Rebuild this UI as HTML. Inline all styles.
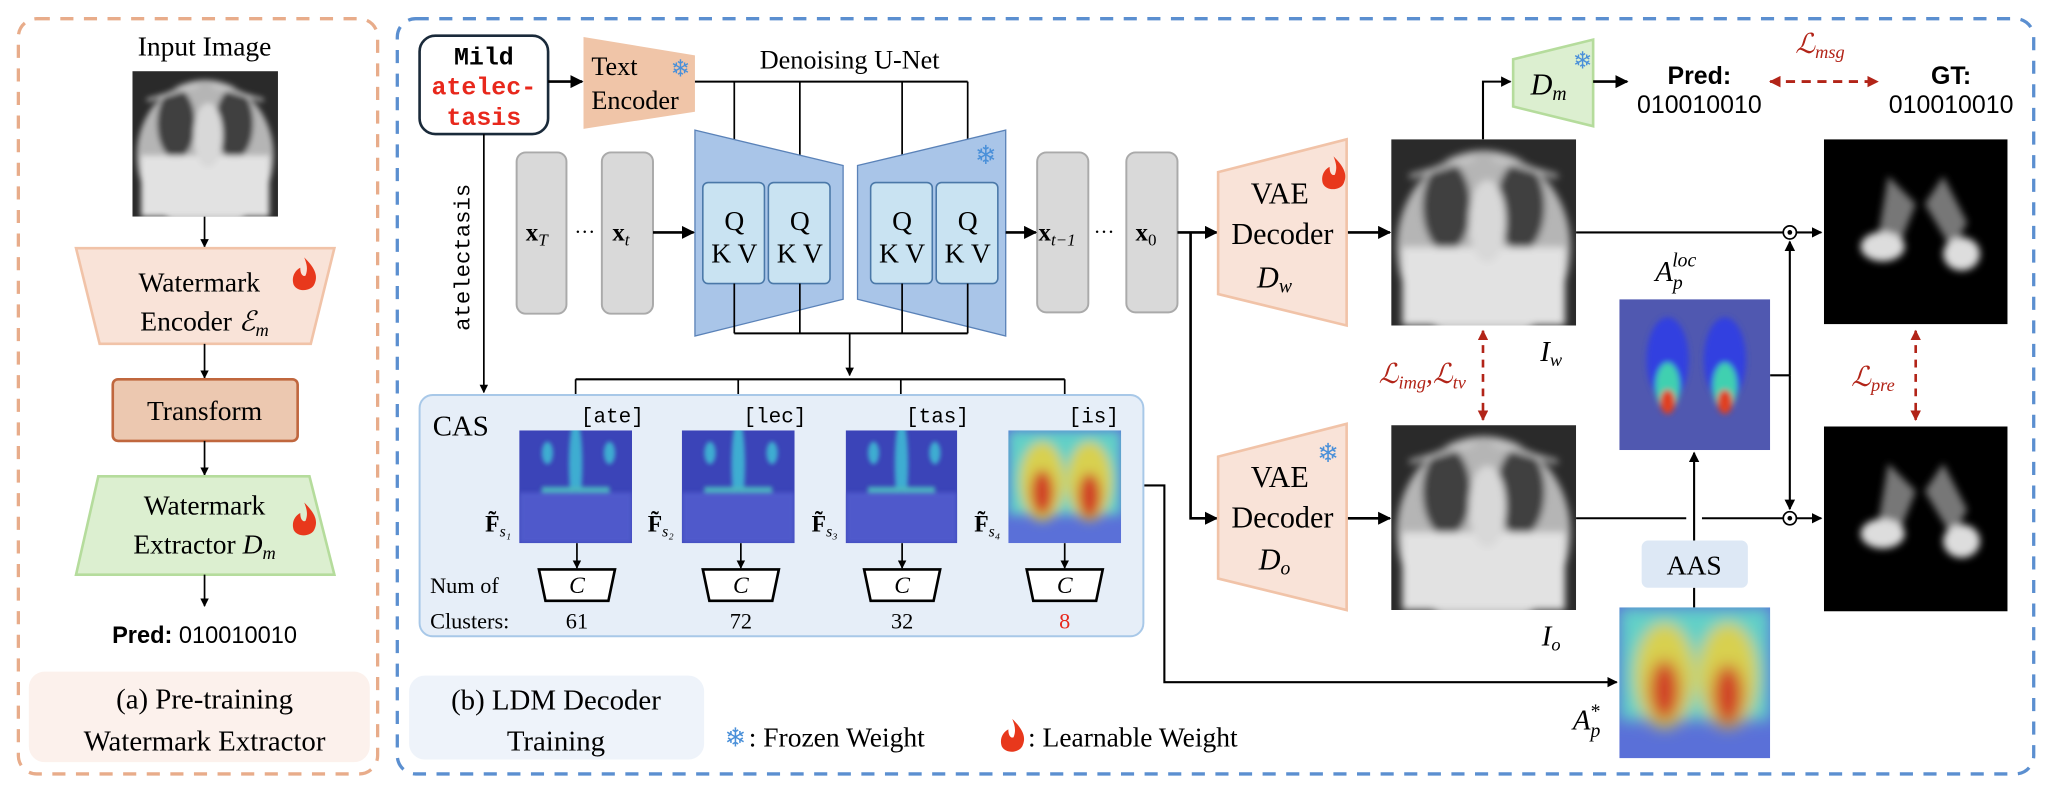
<!DOCTYPE html>
<html><head><meta charset="utf-8"><style>
html,body{margin:0;padding:0;background:#fff;}
svg{display:block;}
.s{font-family:"Liberation Serif",serif;}
.m{font-family:"Liberation Mono",monospace;}
.a{font-family:"Liberation Sans",sans-serif;}
</style></head><body>
<svg width="2056" height="790" viewBox="0 0 1568 602" xmlns="http://www.w3.org/2000/svg">
<defs>
<marker id="ar" viewBox="0 0 10 10" refX="9" refY="5" markerWidth="5" markerHeight="5" orient="auto-start-reverse"><path d="M0,0L10,5L0,10z" fill="#000"/></marker>
<marker id="rr" viewBox="0 0 10 10" refX="9" refY="5" markerWidth="4" markerHeight="4" orient="auto-start-reverse"><path d="M0,0L10,5L0,10z" fill="#b22418"/></marker>
<filter id="bl" x="-20%" y="-20%" width="140%" height="140%"><feGaussianBlur stdDeviation="2"/></filter>
<filter id="bl2" x="-20%" y="-20%" width="140%" height="140%"><feGaussianBlur stdDeviation="5"/></filter>
<symbol id="xr" viewBox="0 0 100 100" preserveAspectRatio="none">
<rect width="100" height="100" fill="#2a2a2a"/>
<g filter="url(#bl)">
<ellipse cx="50" cy="58" rx="47" ry="52" fill="#b5b5b5"/>
<ellipse cx="30" cy="36" rx="13" ry="24" fill="#404040"/>
<ellipse cx="70" cy="36" rx="13" ry="24" fill="#404040"/>
<rect x="6" y="58" width="88" height="42" fill="#e2e2e2"/>
<ellipse cx="52" cy="44" rx="10" ry="22" fill="#d8d8d8"/>
<path d="M10,20 L45,10 M90,20 L55,10" stroke="#ccc" stroke-width="2"/>
</g>
</symbol>
<symbol id="hm" viewBox="0 0 100 100" preserveAspectRatio="none">
<rect width="100" height="100" fill="#3b44b8"/>
<g filter="url(#bl)" opacity="0.8">
<ellipse cx="50" cy="30" rx="6" ry="40" fill="#40c8d8"/>
<ellipse cx="25" cy="20" rx="5" ry="10" fill="#40c8d8"/>
<ellipse cx="80" cy="20" rx="5" ry="10" fill="#40c8d8"/>
<rect x="20" y="50" width="60" height="5" fill="#50d0c0"/>
<rect x="0" y="55" width="100" height="45" fill="#5560d0"/>
</g>
</symbol>
<symbol id="hm4" viewBox="0 0 100 100" preserveAspectRatio="none">
<rect width="100" height="100" fill="#5a70d8"/>
<g filter="url(#bl2)">
<rect x="0" y="0" width="100" height="75" fill="#60d0c8"/>
<ellipse cx="30" cy="45" rx="20" ry="35" fill="#d8d050"/>
<ellipse cx="72" cy="45" rx="20" ry="35" fill="#d8d050"/>
<ellipse cx="30" cy="55" rx="10" ry="20" fill="#d04028"/>
<ellipse cx="72" cy="58" rx="10" ry="20" fill="#d04028"/>
</g>
</symbol>
<symbol id="hml" viewBox="0 0 100 100" preserveAspectRatio="none">
<rect width="100" height="100" fill="#5058b0"/>
<g filter="url(#bl)">
<ellipse cx="32" cy="40" rx="14" ry="28" fill="#3040e0"/>
<ellipse cx="70" cy="40" rx="14" ry="28" fill="#3040e0"/>
<ellipse cx="32" cy="58" rx="8" ry="16" fill="#40d0b0"/>
<ellipse cx="70" cy="58" rx="8" ry="16" fill="#40d0b0"/>
<ellipse cx="32" cy="68" rx="5" ry="8" fill="#e04020"/>
<ellipse cx="70" cy="68" rx="5" ry="8" fill="#e04020"/>
</g>
</symbol>
<symbol id="dk" viewBox="0 0 100 100" preserveAspectRatio="none">
<rect width="100" height="100" fill="#000"/>
<g filter="url(#bl)">
<path d="M35,20 L50,35 L40,60 L30,50z" fill="#777"/>
<path d="M65,20 L55,35 L70,60 L78,45z" fill="#777"/>
<ellipse cx="32" cy="58" rx="12" ry="8" fill="#ddd"/>
<ellipse cx="75" cy="62" rx="10" ry="9" fill="#ddd"/>
</g>
</symbol>
<g id="flame"><path d="M0,-14 C7,-7 11,-1 8,6 C6,12 -5,13 -8,7 C-10,1 -7,-4 -3,-6 C-3,-1 -1,1 1,0 C3,-5 2,-9 0,-14z" fill="#e8381c"/></g>
</defs>

<!-- left panel -->
<rect x="14" y="14" width="274" height="576" rx="14" fill="none" stroke="#e8ac8a" stroke-width="2.5" stroke-dasharray="10,8"/>
<text x="156" y="42" class="s" font-size="21" text-anchor="middle">Input Image</text>
<use href="#xr" x="101" y="54" width="111" height="111"/>
<line x1="156" y1="165" x2="156" y2="188" stroke="#000" stroke-width="1.3" marker-end="url(#ar)"/>
<polygon points="58,189 255,189 237,262 76,262" fill="#f9e3d8" stroke="#f1c3a8" stroke-width="2"/>
<text x="152" y="222" class="s" font-size="21" text-anchor="middle">Watermark</text>
<text x="156" y="252" class="s" font-size="21" text-anchor="middle">Encoder <tspan font-style="italic">ℰ</tspan><tspan font-style="italic" font-size="14" dy="4">m</tspan></text>
<use href="#flame" x="232" y="210"/>
<line x1="156" y1="262" x2="156" y2="288" stroke="#000" stroke-width="1.3" marker-end="url(#ar)"/>
<rect x="86" y="289" width="141" height="47" rx="4" fill="#ecc8b0" stroke="#c0673e" stroke-width="2"/>
<text x="156" y="320" class="s" font-size="21" text-anchor="middle">Transform</text>
<line x1="156" y1="336" x2="156" y2="362" stroke="#000" stroke-width="1.3" marker-end="url(#ar)"/>
<polygon points="75,363 236,363 255,438 58,438" fill="#dcefd0" stroke="#b5dc9c" stroke-width="2"/>
<text x="156" y="392" class="s" font-size="21" text-anchor="middle">Watermark</text>
<text x="156" y="422" class="s" font-size="21" text-anchor="middle">Extractor <tspan font-style="italic">D</tspan><tspan font-style="italic" font-size="14" dy="4">m</tspan></text>
<use href="#flame" x="232" y="397"/>
<line x1="156" y1="438" x2="156" y2="462" stroke="#000" stroke-width="1.3" marker-end="url(#ar)"/>
<text x="156" y="490" class="a" font-size="18" text-anchor="middle"><tspan font-weight="bold">Pred:</tspan> 010010010</text>
<rect x="22" y="512" width="260" height="69" rx="12" fill="#fcf1ec"/>
<text x="156" y="540" class="s" font-size="22" text-anchor="middle">(a) Pre-training</text>
<text x="156" y="572" class="s" font-size="22" text-anchor="middle">Watermark Extractor</text>

<!-- right panel -->
<rect x="303" y="14" width="1248" height="576" rx="14" fill="none" stroke="#5b8fd0" stroke-width="2.5" stroke-dasharray="10,8"/>

<rect x="320" y="27" width="98" height="75" rx="12" fill="#fff" stroke="#1a2a3a" stroke-width="2"/>
<text x="369" y="49" class="m" font-size="19" font-weight="bold" text-anchor="middle">Mild</text>
<text x="369" y="72" class="m" font-size="19" font-weight="bold" fill="#e8281c" text-anchor="middle">atelec-</text>
<text x="369" y="95" class="m" font-size="19" font-weight="bold" fill="#e8281c" text-anchor="middle">tasis</text>
<line x1="418" y1="62" x2="444" y2="62" stroke="#000" stroke-width="2" marker-end="url(#ar)"/>
<polygon points="445,28 530,42 530,85 445,98" fill="#f0c5a8"/>
<text x="451" y="57" class="s" font-size="20">Text</text>
<text x="451" y="83" class="s" font-size="20">Encoder</text>
<text x="519" y="58" font-size="18" fill="#4a90d9" text-anchor="middle" font-family="DejaVu Sans">❄</text>
<text x="648" y="52" class="s" font-size="20" text-anchor="middle">Denoising U-Net</text>
<polyline points="530,62 738,62" fill="none" stroke="#000" stroke-width="1.5"/>
<g stroke="#000" stroke-width="1.3" marker-end="url(#ar)">
<line x1="560" y1="62" x2="560" y2="139"/><line x1="610" y1="62" x2="610" y2="139"/>
<line x1="688" y1="62" x2="688" y2="139"/><line x1="738" y1="62" x2="738" y2="139"/>
</g>
<polygon points="530,99 643,126 643,228 530,256" fill="#a9c5e8" stroke="#5a82b8" stroke-width="1"/>
<polygon points="654,126 767,99 767,256 654,228" fill="#a9c5e8" stroke="#5a82b8" stroke-width="1"/>
<text x="752" y="125" font-size="20" fill="#4a90d9" text-anchor="middle" font-family="DejaVu Sans">❄</text>
<g fill="#c9e3f2" stroke="#4a78a8" stroke-width="1.2">
<rect x="536" y="139" width="47" height="77" rx="4"/><rect x="586" y="139" width="47" height="77" rx="4"/>
<rect x="664" y="139" width="47" height="77" rx="4"/><rect x="714" y="139" width="47" height="77" rx="4"/>
</g>
<g class="s" font-size="21" text-anchor="middle">
<text x="560" y="175">Q</text><text x="560" y="200">K V</text>
<text x="610" y="175">Q</text><text x="610" y="200">K V</text>
<text x="688" y="175">Q</text><text x="688" y="200">K V</text>
<text x="738" y="175">Q</text><text x="738" y="200">K V</text>
</g>
<g stroke="#000" stroke-width="1.3" fill="none">
<line x1="560" y1="216" x2="560" y2="254"/><line x1="610" y1="216" x2="610" y2="254"/>
<line x1="688" y1="216" x2="688" y2="254"/><line x1="738" y1="216" x2="738" y2="254"/>
<line x1="560" y1="254" x2="738" y2="254" stroke-width="1.6"/>
<line x1="648" y1="254" x2="648" y2="286" marker-end="url(#ar)"/>
<line x1="439" y1="289" x2="812" y2="289" stroke-width="1.6"/>
<line x1="439" y1="289" x2="439" y2="327" marker-end="url(#ar)"/>
<line x1="563" y1="289" x2="563" y2="327" marker-end="url(#ar)"/>
<line x1="687" y1="289" x2="687" y2="327" marker-end="url(#ar)"/>
<line x1="812" y1="289" x2="812" y2="327" marker-end="url(#ar)"/>
<line x1="369" y1="102" x2="369" y2="299" marker-end="url(#ar)"/>
</g>
<text transform="translate(358,196) rotate(-90)" class="m" font-size="17" text-anchor="middle">atelectasis</text>

<g fill="#d9d9d9" stroke="#aaaaaa" stroke-width="1.5">
<rect x="394" y="116" width="38" height="123" rx="7"/><rect x="459" y="116" width="39" height="123" rx="7"/>
<rect x="791" y="116" width="39" height="122" rx="7"/><rect x="859" y="116" width="39" height="122" rx="7"/>
</g>
<g class="s" font-size="19" font-weight="bold">
<text x="401" y="183">x<tspan font-size="13" font-style="italic" font-weight="normal" dy="4">T</tspan></text>
<text x="467" y="183">x<tspan font-size="13" font-style="italic" font-weight="normal" dy="4">t</tspan></text>
<text x="792" y="183">x<tspan font-size="13" font-style="italic" font-weight="normal" dy="4">t−1</tspan></text>
<text x="866" y="183">x<tspan font-size="13" font-weight="normal" dy="4">0</tspan></text>
</g>
<text x="446" y="182" class="s" font-size="16" text-anchor="middle">···</text>
<text x="842" y="182" class="s" font-size="16" text-anchor="middle">···</text>
<g stroke="#000" stroke-width="2" fill="none" marker-end="url(#ar)">
<line x1="498" y1="177" x2="529" y2="177"/>
<line x1="767" y1="177" x2="790" y2="177"/>
<line x1="898" y1="177" x2="928" y2="177"/>
<polyline points="908,177 908,395 928,395"/>
<line x1="1027" y1="177" x2="1060" y2="177"/>
<line x1="1027" y1="395" x2="1060" y2="395"/>
</g>

<polygon points="929,131 1027,106 1027,248 929,224" fill="#f9e3d8" stroke="#f1c3a8" stroke-width="2"/>
<text x="976" y="155" class="s" font-size="23" text-anchor="middle">VAE</text>
<text x="978" y="186" class="s" font-size="23" text-anchor="middle">Decoder</text>
<text x="972" y="219" class="s" font-size="23" font-style="italic" text-anchor="middle">D<tspan font-size="15" dy="4">w</tspan></text>
<use href="#flame" x="1017" y="133"/>
<polygon points="929,348 1027,323 1027,465 929,441" fill="#f9e3d8" stroke="#f1c3a8" stroke-width="2"/>
<text x="976" y="371" class="s" font-size="23" text-anchor="middle">VAE</text>
<text x="978" y="402" class="s" font-size="23" text-anchor="middle">Decoder</text>
<text x="972" y="434" class="s" font-size="23" font-style="italic" text-anchor="middle">D<tspan font-size="15" dy="4">o</tspan></text>
<text x="1013" y="352" font-size="20" fill="#4a90d9" text-anchor="middle" font-family="DejaVu Sans">❄</text>

<use href="#xr" x="1061" y="106" width="141" height="142"/>
<use href="#xr" x="1061" y="324" width="141" height="141"/>
<text x="1183" y="275" class="s" font-size="22" font-style="italic" text-anchor="middle">I<tspan font-size="14" dy="4">w</tspan></text>
<text x="1183" y="492" class="s" font-size="22" font-style="italic" text-anchor="middle">I<tspan font-size="14" dy="4">o</tspan></text>
<line x1="1131" y1="252" x2="1131" y2="320" stroke="#b22418" stroke-width="2" stroke-dasharray="6,5" marker-start="url(#rr)" marker-end="url(#rr)"/>
<text x="1118" y="292" class="s" font-size="21" font-style="italic" fill="#b22418" text-anchor="end">ℒ<tspan font-size="14" dy="4">img</tspan><tspan dy="-4">,ℒ</tspan><tspan font-size="14" dy="4">tv</tspan></text>

<polyline points="1131,106 1131,62 1152,62" fill="none" stroke="#000" stroke-width="1.6" marker-end="url(#ar)"/>
<polygon points="1154,45 1215,30 1215,96 1154,81" fill="#dcefd0" stroke="#b5dc9c" stroke-width="2"/>
<text x="1181" y="72" class="s" font-size="23" font-style="italic" text-anchor="middle">D<tspan font-size="15" dy="4">m</tspan></text>
<text x="1207" y="52" font-size="18" fill="#4a90d9" text-anchor="middle" font-family="DejaVu Sans">❄</text>
<line x1="1215" y1="62" x2="1241" y2="62" stroke="#000" stroke-width="2" marker-end="url(#ar)"/>
<text x="1296" y="64" class="a" font-size="19" font-weight="bold" text-anchor="middle">Pred:</text>
<text x="1296" y="86" class="a" font-size="19" text-anchor="middle">010010010</text>
<text x="1488" y="64" class="a" font-size="19" font-weight="bold" text-anchor="middle">GT:</text>
<text x="1488" y="86" class="a" font-size="19" text-anchor="middle">010010010</text>
<line x1="1350" y1="62" x2="1432" y2="62" stroke="#b22418" stroke-width="2.2" stroke-dasharray="7,5" marker-start="url(#rr)" marker-end="url(#rr)"/>
<text x="1388" y="40" class="s" font-size="21" font-style="italic" fill="#b22418" text-anchor="middle">ℒ<tspan font-size="14" dy="4">msg</tspan></text>

<use href="#dk" x="1391" y="106" width="140" height="141"/>
<use href="#dk" x="1391" y="325" width="140" height="141"/>
<line x1="1461" y1="252" x2="1461" y2="320" stroke="#b22418" stroke-width="2" stroke-dasharray="6,5" marker-start="url(#rr)" marker-end="url(#rr)"/>
<text x="1445" y="294" class="s" font-size="21" font-style="italic" fill="#b22418" text-anchor="end">ℒ<tspan font-size="14" dy="4">pre</tspan></text>

<g stroke="#000" stroke-width="1.6" fill="none">
<line x1="1202" y1="177" x2="1360" y2="177"/>
<line x1="1202" y1="395" x2="1286" y2="395"/>
<line x1="1298" y1="395" x2="1360" y2="395"/>
<line x1="1370" y1="177" x2="1389" y2="177" marker-end="url(#ar)"/>
<line x1="1370" y1="395" x2="1389" y2="395" marker-end="url(#ar)"/>
<line x1="1350" y1="286" x2="1365" y2="286"/>
<line x1="1365" y1="286" x2="1365" y2="184" marker-end="url(#ar)"/>
<line x1="1365" y1="286" x2="1365" y2="388" marker-end="url(#ar)"/>
<line x1="1292" y1="463" x2="1292" y2="448"/>
<line x1="1292" y1="412" x2="1292" y2="345" marker-end="url(#ar)"/>
<polyline points="855,370 888,370 888,520 1233,520" marker-end="url(#ar)"/>
</g>
<circle cx="1365" cy="177" r="5" fill="#fff" stroke="#000" stroke-width="1.3"/><circle cx="1365" cy="177" r="1.8"/>
<circle cx="1365" cy="395" r="5" fill="#fff" stroke="#000" stroke-width="1.3"/><circle cx="1365" cy="395" r="1.8"/>

<use href="#hml" x="1235" y="228" width="115" height="115"/>
<text x="1278" y="214" class="s" font-size="22" font-style="italic" text-anchor="middle">A<tspan font-size="15" dy="6">p</tspan><tspan font-size="15" dx="-8" dy="-17">loc</tspan></text>
<rect x="1252" y="412" width="81" height="36" rx="5" fill="#dde8f5"/>
<text x="1292" y="438" class="s" font-size="21" text-anchor="middle">AAS</text>
<use href="#hm4" x="1235" y="463" width="115" height="115"/>
<text x="1210" y="556" class="s" font-size="22" font-style="italic" text-anchor="middle">A<tspan font-size="15" dy="6">p</tspan><tspan font-size="15" dx="-8" dy="-15">*</tspan></text>

<!-- CAS -->
<rect x="320" y="301" width="552" height="184" rx="10" fill="#e6eef8" stroke="#a8c8e8" stroke-width="1.5"/>
<text x="330" y="332" class="s" font-size="22">CAS</text>
<use href="#hm" x="396" y="328" width="86" height="86"/>
<use href="#hm" x="520" y="328" width="86" height="86"/>
<use href="#hm" x="645" y="328" width="85" height="86"/>
<use href="#hm4" x="769" y="328" width="86" height="86"/>
<g class="m" font-size="16">
<text x="443" y="322">[ate]</text><text x="567" y="322">[lec]</text>
<text x="691" y="322">[tas]</text><text x="815" y="322">[is]</text>
</g>
<g class="s" font-size="18" font-weight="bold">
<text x="370" y="405">F̃<tspan font-size="12" font-style="italic" font-weight="normal" dy="4">s₁</tspan></text>
<text x="494" y="405">F̃<tspan font-size="12" font-style="italic" font-weight="normal" dy="4">s₂</tspan></text>
<text x="619" y="405">F̃<tspan font-size="12" font-style="italic" font-weight="normal" dy="4">s₃</tspan></text>
<text x="743" y="405">F̃<tspan font-size="12" font-style="italic" font-weight="normal" dy="4">s₄</tspan></text>
</g>
<g stroke="#000" stroke-width="1.3" marker-end="url(#ar)">
<line x1="440" y1="414" x2="440" y2="433"/><line x1="565" y1="414" x2="565" y2="433"/>
<line x1="688" y1="414" x2="688" y2="433"/><line x1="812" y1="414" x2="812" y2="433"/>
</g>
<g fill="#fff" stroke="#000" stroke-width="2">
<polygon points="411,434 469,434 464,458 416,458"/><polygon points="536,434 594,434 589,458 541,458"/>
<polygon points="659,434 717,434 712,458 664,458"/><polygon points="783,434 841,434 836,458 788,458"/>
</g>
<g class="s" font-size="18" font-style="italic" text-anchor="middle">
<text x="440" y="452">C</text><text x="565" y="452">C</text><text x="688" y="452">C</text><text x="812" y="452">C</text>
</g>
<text x="328" y="452" class="s" font-size="17">Num of</text>
<text x="328" y="479" class="s" font-size="17">Clusters:</text>
<g class="s" font-size="17" text-anchor="middle">
<text x="440" y="479">61</text><text x="565" y="479">72</text><text x="688" y="479">32</text><text x="812" y="479" fill="#e8281c">8</text>
</g>

<rect x="312" y="515" width="225" height="64" rx="12" fill="#eef3fa"/>
<text x="424" y="541" class="s" font-size="22" text-anchor="middle">(b) LDM Decoder</text>
<text x="424" y="572" class="s" font-size="22" text-anchor="middle">Training</text>
<text x="561" y="569" font-size="20" fill="#4a90d9" text-anchor="middle" font-family="DejaVu Sans">❄</text>
<text x="571" y="569" class="s" font-size="21">: Frozen Weight</text>
<use href="#flame" x="772" y="562"/>
<text x="784" y="569" class="s" font-size="21">: Learnable Weight</text>
</svg>
</body></html>
